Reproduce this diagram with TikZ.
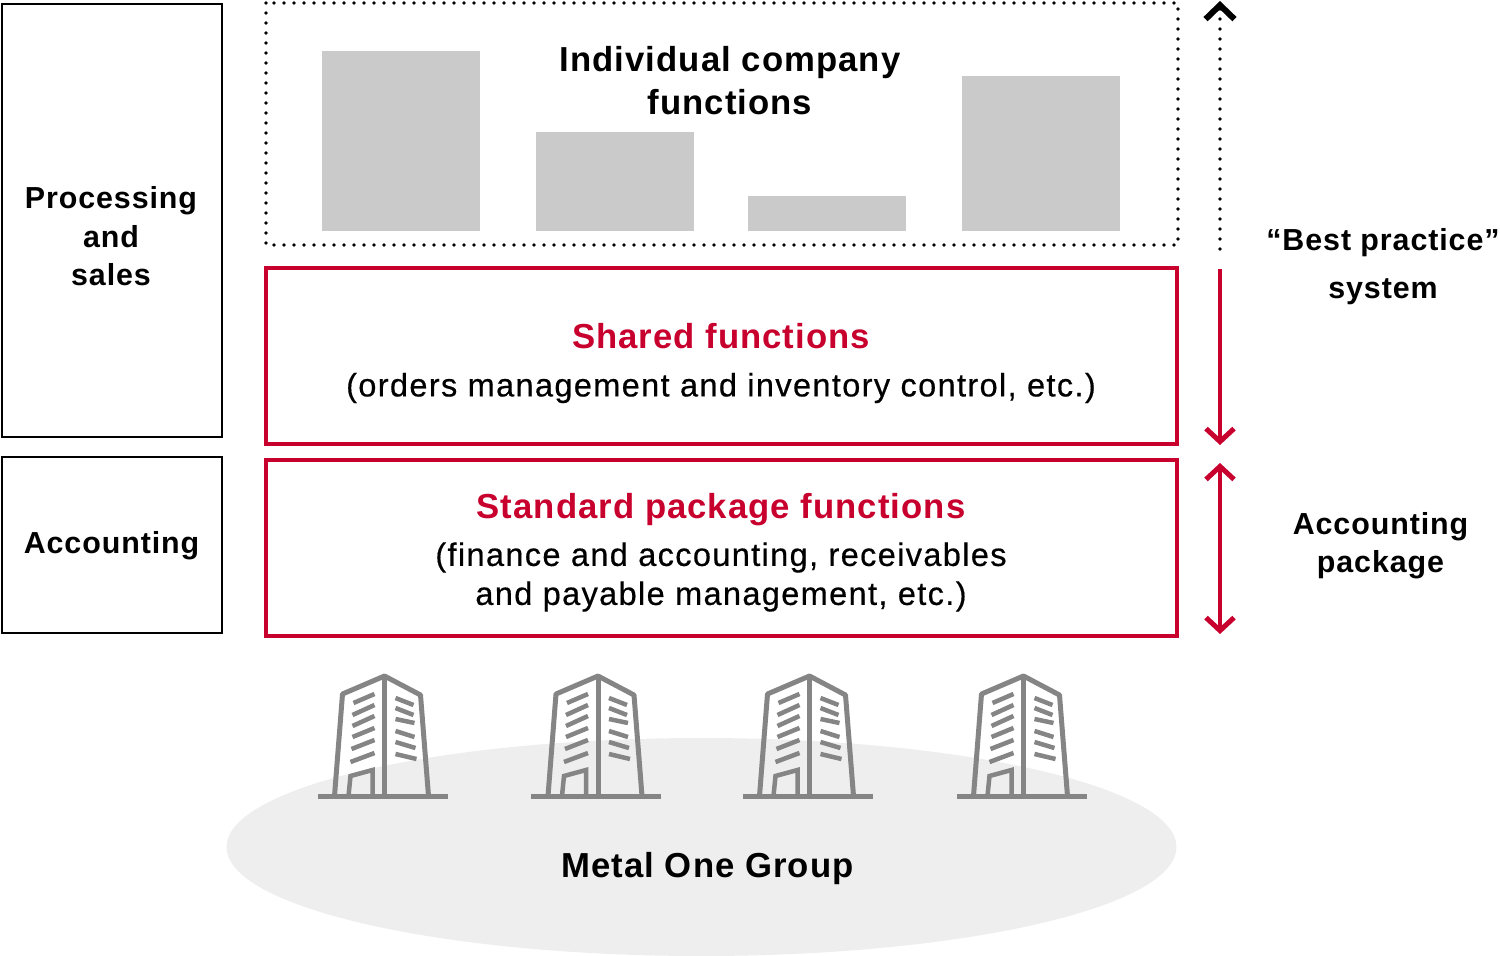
\documentclass[tikz,border=0pt]{standalone}
\usepackage{fontspec}
\setmainfont{Liberation Sans}[LetterSpace=3]
\newfontfamily\bodyfont{Liberation Sans}[LetterSpace=4.2,FakeBold=0.5]
\usetikzlibrary{arrows.meta}
\definecolor{mored}{HTML}{C8002D}
\definecolor{shadebar}{HTML}{CACACA}
\definecolor{shadeground}{HTML}{EEEEEE}
\definecolor{towergray}{HTML}{858585}
\tikzset{
  plainbox/.style={draw=black,line width=2pt,anchor=north west,inner sep=0pt,outer sep=0pt},
  redbox/.style={draw=mored,line width=4pt,anchor=north west,inner sep=0pt,outer sep=0pt},
  bar/.style={fill=shadebar},
  dotline/.style={line width=3.6pt,line cap=round,dash pattern=on 0pt off 10pt},
  head/.style={font=\fontsize{34.7}{43}\selectfont\bfseries,align=center},
  side/.style={font=\fontsize{30.4}{38.5}\selectfont\bfseries,align=center},
  body/.style={font=\fontsize{32.5}{39}\selectfont\bodyfont,align=center},
  barb/.tip={Straight Barb[length=13pt,width=28pt,line width=5pt]},
  tip/.style={-{Straight Barb[length=14pt,width=29pt,line width=6pt]}},
}
\begin{document}
\begin{tikzpicture}[x=1pt,y=-1pt]
\useasboundingbox (0,0) rectangle (1500,956);

% ground
\fill[shadeground] (701.5,847) ellipse [x radius=475pt,y radius=109pt];
\node[head] (group) at (707.5,869) {Metal One Group};

% left boxes
\node[plainbox,minimum width=220pt,minimum height=433pt] (sales) at (2,4) {};
\node[side] at (111,236.5) {Processing\\and\\sales};
\node[plainbox,minimum width=220pt,minimum height=176pt] (acct) at (2,457) {};
\node[side] at (111.5,546) {Accounting};

% individual functions
\draw[dotline] (266,3) rectangle (1178,245);
\fill[bar] (322,51) rectangle (480,231);
\fill[bar] (536,132) rectangle (694,231);
\fill[bar] (748,196) rectangle (906,231);
\fill[bar] (962,76) rectangle (1120,231);
\node[head] (indiv) at (730,80.5) {Individual company\\functions};

% red boxes
\node[redbox,minimum width=911pt,minimum height=176pt] (shared) at (266,268) {};
\node[head,text=mored] at (721,336) {Shared functions};
\node[body] at (721,388) {(orders management and inventory control, etc.)};
\node[redbox,minimum width=911pt,minimum height=176pt] (package) at (266,460) {};
\node[head,text=mored] at (721,510) {Standard package functions};
\node[body] at (721,577) {(finance and accounting, receivables\\and payable management, etc.)};

% arrows
\coordinate (topA) at (1220,249);
\coordinate (topB) at (1220,1);
\coordinate (midA) at (1220,269);
\coordinate (midB) at (1220,445);
\coordinate (lowA) at (1220,463);
\coordinate (lowB) at (1220,634);
\draw[dotline,tip] (topA) -- (topB);
\draw[mored,line width=4pt,-barb] (midA) -- (midB);
\draw[mored,line width=4pt,barb-barb] (lowA) -- (lowB);
\node[side,font=\fontsize{30.4}{48}\selectfont\bfseries] (best) at (1383,267) {“Best practice”\\system};
\node[side] (acpack) at (1380.5,545.5) {Accounting\\package};

% buildings
\foreach \dx in {0.5,214,425.5,639.5} {
\begin{scope}[xshift=\dx pt,towergray]
\draw[line width=5pt] (317,796) -- (447,796);
\draw[line width=5pt,line join=round] (334,796) -- (342,694) -- (384,676) -- (420,695) -- (428,796);
\draw[line width=5pt] (384,676) -- (384,796);
\draw[line width=4.5pt] (348,796) -- (350,776) -- (372,770) -- (372,796);
\foreach \xa/\ya/\yb in {353/703/694,352/715/705,352/726/716,352/737/728,351/749/740,350/762/753}
  \draw[line width=4.5pt] (\xa,\ya) -- (374,\yb);
\foreach \ya/\xb/\yb in {698/413/705,708/413/715,719/414/723,731/414/737,742/415/748,754/416/759}
  \draw[line width=4.5pt] (395,\ya) -- (\xb,\yb);
\end{scope}
}
\end{tikzpicture}
\end{document}
